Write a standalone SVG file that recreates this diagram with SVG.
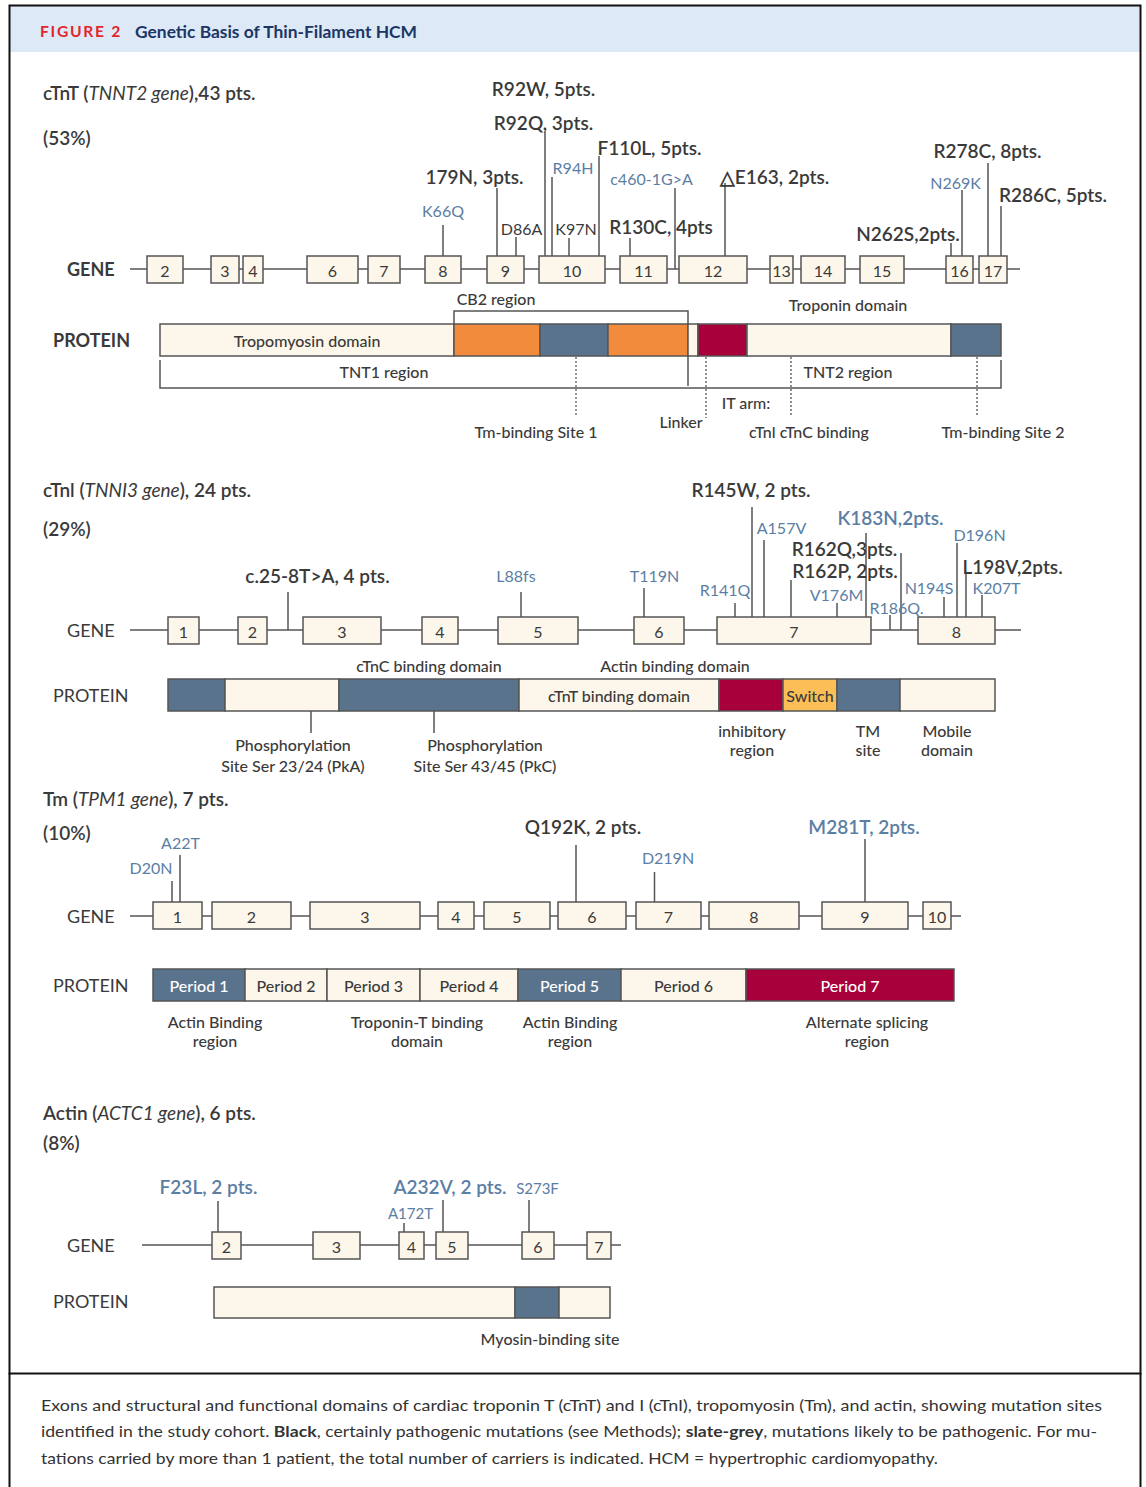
<svg xmlns="http://www.w3.org/2000/svg" width="1146" height="1487" viewBox="0 0 1146 1487">
<style>
text{font-family:Lato,"Noto Sans",sans-serif;fill:#3a3a3a;dominant-baseline:central}
.m{text-anchor:middle}
.big{font-size:19px;font-weight:600}
.sm{font-size:16px}
.xs{font-size:15px}
.bl{fill:#5b7ea4}
.ttl{font-size:19px;font-weight:600}
.lab{font-size:18px}
.lab1{font-size:18px;font-weight:700}
.dom{font-size:16px;font-weight:500}
.wt{fill:#ffffff}
.box{fill:#fdf6ea;stroke:#555;stroke-width:1.5}
.ln{stroke:#555;stroke-width:1.5;fill:none}
.dot{stroke:#555;stroke-width:1.3;stroke-dasharray:2 2;fill:none}
.cream{fill:#fdf6ea;stroke:#555;stroke-width:1.5}
.slate{fill:#5a738d;stroke:#555;stroke-width:1.5}
.org{fill:#f28b3c;stroke:#555;stroke-width:1.5}
.red{fill:#a8003a;stroke:#555;stroke-width:1.5}
.yel{fill:#fcbf57;stroke:#555;stroke-width:1.5}
.cap{font-size:16px;fill:#333}
</style>
<rect x="0" y="0" width="1146" height="1487" fill="#ffffff"/>
<g id="frame">
<rect x="10" y="6" width="1130" height="46" fill="#dde9f6"/>
<rect x="9.5" y="5.5" width="1131" height="1368" fill="none" stroke="#111" stroke-width="2"/>
<line x1="9.5" y1="1373" x2="9.5" y2="1487" stroke="#111" stroke-width="2"/>
<line x1="1140.5" y1="1373" x2="1140.5" y2="1487" stroke="#111" stroke-width="2"/>
<text x="40" y="31" textLength="82" lengthAdjust="spacingAndGlyphs" style="font-size:15px;font-weight:700;fill:#e2262b;letter-spacing:1.6px">FIGURE 2</text>
<text x="135" y="31" textLength="282" lengthAdjust="spacingAndGlyphs" style="font-size:17px;font-weight:700;fill:#1b3665">Genetic Basis of Thin-Filament HCM</text>
</g>

<!-- ========== cTnT ========== -->
<g id="ctnt-title">
<text x="43" y="92" class="ttl">cTnT (<tspan font-style="italic" font-weight="400">TNNT2 gene</tspan>),43 pts.</text>
<text x="43" y="137" class="ttl">(53%)</text>
<text x="67" y="269" class="lab1">GENE</text>
<text x="53" y="340" class="lab1">PROTEIN</text>
</g>
<g id="ctnt-connectors">
<line class="ln" x1="130" y1="269" x2="1020" y2="269"/>
<line class="ln" x1="443" y1="225" x2="443" y2="256"/>
<line class="ln" x1="497" y1="188" x2="497" y2="256"/>
<line class="ln" x1="516" y1="237" x2="516" y2="256"/>
<line class="ln" x1="545" y1="132" x2="545" y2="256"/>
<line class="ln" x1="552" y1="177" x2="552" y2="256"/>
<line class="ln" x1="569" y1="238" x2="569" y2="256"/>
<line class="ln" x1="599" y1="156" x2="599" y2="256"/>
<line class="ln" x1="675" y1="188" x2="675" y2="269"/>
<line class="ln" x1="630" y1="238" x2="630" y2="256"/>
<line class="ln" x1="725" y1="183" x2="725" y2="256"/>
<line class="ln" x1="951" y1="243" x2="951" y2="256"/>
<line class="ln" x1="962" y1="190" x2="962" y2="256"/>
<line class="ln" x1="988" y1="163" x2="988" y2="256"/>
<line class="ln" x1="1001" y1="206" x2="1001" y2="256"/>
<path class="ln" d="M454,324 V311 H688 V386"/>
<path class="ln" d="M160,360 V388 H1001 V360"/>
<line class="dot" x1="576" y1="357" x2="576" y2="417"/>
<line class="dot" x1="706" y1="357" x2="706" y2="418"/>
<line class="dot" x1="791" y1="357" x2="791" y2="417"/>
<line class="dot" x1="977" y1="357" x2="977" y2="416"/>
</g>
<g id="ctnt-exons">
<g id="tnnt2-e2"><rect class="box" x="147" y="256" width="36" height="27"/><text class="m sm" x="165" y="270">2</text></g>
<g id="tnnt2-e3"><rect class="box" x="211" y="256" width="28" height="27"/><text class="m sm" x="225" y="270">3</text></g>
<g id="tnnt2-e4"><rect class="box" x="243" y="256" width="20" height="27"/><text class="m sm" x="253" y="270">4</text></g>
<g id="tnnt2-e6"><rect class="box" x="307" y="256" width="51" height="27"/><text class="m sm" x="332.5" y="270">6</text></g>
<g id="tnnt2-e7"><rect class="box" x="368" y="256" width="32" height="27"/><text class="m sm" x="384" y="270">7</text></g>
<g id="tnnt2-e8"><rect class="box" x="425" y="256" width="36" height="27"/><text class="m sm" x="443" y="270">8</text></g>
<g id="tnnt2-e9"><rect class="box" x="487" y="256" width="37" height="27"/><text class="m sm" x="505.5" y="270">9</text></g>
<g id="tnnt2-e10"><rect class="box" x="539" y="256" width="66" height="27"/><text class="m sm" x="572" y="270">10</text></g>
<g id="tnnt2-e11"><rect class="box" x="620" y="256" width="47" height="27"/><text class="m sm" x="643.5" y="270">11</text></g>
<g id="tnnt2-e12"><rect class="box" x="679" y="256" width="68" height="27"/><text class="m sm" x="713" y="270">12</text></g>
<g id="tnnt2-e13"><rect class="box" x="770" y="256" width="23" height="27"/><text class="m sm" x="781.5" y="270">13</text></g>
<g id="tnnt2-e14"><rect class="box" x="801" y="256" width="44" height="27"/><text class="m sm" x="823" y="270">14</text></g>
<g id="tnnt2-e15"><rect class="box" x="860" y="256" width="44" height="27"/><text class="m sm" x="882" y="270">15</text></g>
<g id="tnnt2-e16"><rect class="box" x="946" y="256" width="27" height="27"/><text class="m sm" x="959.5" y="270">16</text></g>
<g id="tnnt2-e17"><rect class="box" x="979" y="256" width="28" height="27"/><text class="m sm" x="993" y="270">17</text></g>
</g>
<g id="ctnt-mutations">
<text class="m sm bl" x="443" y="210">K66Q</text>
<text class="m big" x="474.5" y="176">179N, 3pts.</text>
<text class="m sm" x="521.5" y="228">D86A</text>
<text class="m big" x="543.5" y="88">R92W, 5pts.</text>
<text class="m big" x="543.5" y="122">R92Q, 3pts.</text>
<text class="m sm bl" x="573" y="167">R94H</text>
<text class="m sm" x="576" y="228">K97N</text>
<text class="m big" x="649.5" y="147">F110L, 5pts.</text>
<text class="m sm bl" x="651.5" y="178">c460-1G&gt;A</text>
<text class="m big" x="661" y="226">R130C, 4pts</text>
<text class="m big" x="774.5" y="176">△E163, 2pts.</text>
<text class="m big" x="908" y="233">N262S,2pts.</text>
<text class="m sm bl" x="955.5" y="182">N269K</text>
<text class="m big" x="987.5" y="150">R278C, 8pts.</text>
<text class="m big" x="1053" y="194">R286C, 5pts.</text>
</g>
<g id="ctnt-protein">
<rect class="cream" x="160" y="324" width="294" height="32"/>
<rect class="org" x="454" y="324" width="86" height="32"/>
<rect class="slate" x="540" y="324" width="68" height="32"/>
<rect class="org" x="608" y="324" width="80" height="32"/>
<rect class="cream" x="688" y="324" width="10" height="32"/>
<rect class="red" x="698" y="324" width="49" height="32"/>
<rect class="cream" x="747" y="324" width="204" height="32"/>
<rect class="slate" x="951" y="324" width="50" height="32"/>
<text class="m dom" x="307" y="340">Tropomyosin domain</text>
<text class="m dom" x="496" y="298">CB2 region</text>
<text class="m dom" x="848" y="304">Troponin domain</text>
<text class="m dom" x="384" y="371">TNT1 region</text>
<text class="m dom" x="848" y="371">TNT2 region</text>
<text class="m dom" x="536" y="431">Tm-binding Site 1</text>
<text class="m dom" x="681" y="421">Linker</text>
<text class="m dom" x="746" y="402">IT arm:</text>
<text class="m dom" x="809" y="431">cTnl cTnC binding</text>
<text class="m dom" x="1003" y="431">Tm-binding Site 2</text>
</g>

<!-- ========== cTnI ========== -->
<g id="ctni-title">
<text x="43" y="489" class="ttl">cTnl (<tspan font-style="italic" font-weight="400">TNNI3 gene</tspan>), 24 pts.</text>
<text x="43" y="528" class="ttl">(29%)</text>
<text x="67" y="630" class="lab">GENE</text>
<text x="53" y="695" class="lab">PROTEIN</text>
</g>
<g id="ctni-connectors">
<line class="ln" x1="130" y1="630" x2="1021" y2="630"/>
<line class="ln" x1="288" y1="592" x2="288" y2="630"/>
<line class="ln" x1="521" y1="592" x2="521" y2="617"/>
<line class="ln" x1="644" y1="588" x2="644" y2="617"/>
<line class="ln" x1="735" y1="603" x2="735" y2="617"/>
<line class="ln" x1="752" y1="507" x2="752" y2="617"/>
<line class="ln" x1="764" y1="540" x2="764" y2="617"/>
<line class="ln" x1="866" y1="533" x2="866" y2="617"/>
<line class="ln" x1="901" y1="553" x2="901" y2="630"/>
<line class="ln" x1="791" y1="580" x2="791" y2="617"/>
<line class="ln" x1="837" y1="603" x2="837" y2="617"/>
<line class="ln" x1="890" y1="615" x2="890" y2="630"/>
<line class="ln" x1="944" y1="597" x2="944" y2="617"/>
<line class="ln" x1="957" y1="543" x2="957" y2="617"/>
<line class="ln" x1="966" y1="574" x2="966" y2="617"/>
<line class="ln" x1="982" y1="595" x2="982" y2="617"/>
<line class="ln" x1="311" y1="711" x2="311" y2="733"/>
<line class="ln" x1="434" y1="711" x2="434" y2="733"/>
</g>
<g id="ctni-exons">
<g id="tnni3-e1"><rect class="box" x="168" y="617" width="31" height="27"/><text class="m sm" x="183.5" y="631">1</text></g>
<g id="tnni3-e2"><rect class="box" x="238" y="617" width="29" height="27"/><text class="m sm" x="252.5" y="631">2</text></g>
<g id="tnni3-e3"><rect class="box" x="303" y="617" width="78" height="27"/><text class="m sm" x="342" y="631">3</text></g>
<g id="tnni3-e4"><rect class="box" x="422" y="617" width="36" height="27"/><text class="m sm" x="440" y="631">4</text></g>
<g id="tnni3-e5"><rect class="box" x="498" y="617" width="80" height="27"/><text class="m sm" x="538" y="631">5</text></g>
<g id="tnni3-e6"><rect class="box" x="634" y="617" width="50" height="27"/><text class="m sm" x="659" y="631">6</text></g>
<g id="tnni3-e7"><rect class="box" x="717" y="617" width="154" height="27"/><text class="m sm" x="794" y="631">7</text></g>
<g id="tnni3-e8"><rect class="box" x="918" y="617" width="77" height="27"/><text class="m sm" x="956.5" y="631">8</text></g>
</g>
<g id="ctni-mutations">
<text class="m big" x="317.5" y="575">c.25-8T&gt;A, 4 pts.</text>
<text class="m sm bl" x="516" y="575">L88fs</text>
<text class="m sm bl" x="654.5" y="575">T119N</text>
<text class="m sm bl" x="725" y="589">R141Q</text>
<text class="m big" x="751" y="489">R145W, 2 pts.</text>
<text class="m sm bl" x="781.5" y="527">A157V</text>
<text class="m big bl" x="890.5" y="517">K183N,2pts.</text>
<text class="m big" x="844.5" y="548">R162Q,3pts.</text>
<text class="m big" x="845" y="570">R162P, 2pts.</text>
<text class="m sm bl" x="836.5" y="594">V176M</text>
<text class="m sm bl" x="896.5" y="607">R186Q.</text>
<text class="m sm bl" x="929" y="587">N194S</text>
<text class="m sm bl" x="979.5" y="534">D196N</text>
<text class="m big" x="1012.5" y="566">L198V,2pts.</text>
<text class="m sm bl" x="996.5" y="587">K207T</text>
</g>
<g id="ctni-protein">
<rect class="slate" x="168" y="679" width="57" height="32"/>
<rect class="cream" x="225" y="679" width="114" height="32"/>
<rect class="slate" x="339" y="679" width="180" height="32"/>
<rect class="cream" x="519" y="679" width="200" height="32"/>
<rect class="red" x="719" y="679" width="64" height="32"/>
<rect class="yel" x="783" y="679" width="54" height="32"/>
<rect class="slate" x="837" y="679" width="63" height="32"/>
<rect class="cream" x="900" y="679" width="95" height="32"/>
<text class="m dom" x="429" y="665">cTnC binding domain</text>
<text class="m dom" x="675" y="665">Actin binding domain</text>
<text class="m dom" x="619" y="695">cTnT binding domain</text>
<text class="m dom" x="810" y="695">Switch</text>
<text class="m dom" x="293" y="744">Phosphorylation</text>
<text class="m dom" x="293" y="765">Site Ser 23/24 (PkA)</text>
<text class="m dom" x="485" y="744">Phosphorylation</text>
<text class="m dom" x="485" y="765">Site Ser 43/45 (PkC)</text>
<text class="m dom" x="752" y="730">inhibitory</text>
<text class="m dom" x="752" y="749">region</text>
<text class="m dom" x="868" y="730">TM</text>
<text class="m dom" x="868" y="749">site</text>
<text class="m dom" x="947" y="730">Mobile</text>
<text class="m dom" x="947" y="749">domain</text>
</g>

<!-- ========== Tm ========== -->
<g id="tm-title">
<text x="43" y="798" class="ttl">Tm (<tspan font-style="italic" font-weight="400">TPM1 gene</tspan>), 7 pts.</text>
<text x="43" y="832" class="ttl">(10%)</text>
<text x="67" y="916" class="lab">GENE</text>
<text x="53" y="985" class="lab">PROTEIN</text>
</g>
<g id="tm-connectors">
<line class="ln" x1="130" y1="916" x2="961" y2="916"/>
<line class="ln" x1="172" y1="881" x2="172" y2="902"/>
<line class="ln" x1="180" y1="855" x2="180" y2="902"/>
<line class="ln" x1="576" y1="845" x2="576" y2="902"/>
<line class="ln" x1="654.5" y1="872" x2="654.5" y2="902"/>
<line class="ln" x1="865" y1="839" x2="865" y2="902"/>
</g>
<g id="tm-exons">
<g id="tpm1-e1"><rect class="box" x="153" y="902" width="49" height="27"/><text class="m sm" x="177.5" y="916">1</text></g>
<g id="tpm1-e2"><rect class="box" x="212" y="902" width="79" height="27"/><text class="m sm" x="251.5" y="916">2</text></g>
<g id="tpm1-e3"><rect class="box" x="310" y="902" width="110" height="27"/><text class="m sm" x="365" y="916">3</text></g>
<g id="tpm1-e4"><rect class="box" x="438" y="902" width="36" height="27"/><text class="m sm" x="456" y="916">4</text></g>
<g id="tpm1-e5"><rect class="box" x="484" y="902" width="66" height="27"/><text class="m sm" x="517" y="916">5</text></g>
<g id="tpm1-e6"><rect class="box" x="558" y="902" width="68" height="27"/><text class="m sm" x="592" y="916">6</text></g>
<g id="tpm1-e7"><rect class="box" x="636" y="902" width="65" height="27"/><text class="m sm" x="668.5" y="916">7</text></g>
<g id="tpm1-e8"><rect class="box" x="709" y="902" width="90" height="27"/><text class="m sm" x="754" y="916">8</text></g>
<g id="tpm1-e9"><rect class="box" x="822" y="902" width="86" height="27"/><text class="m sm" x="865" y="916">9</text></g>
<g id="tpm1-e10"><rect class="box" x="923" y="902" width="28" height="27"/><text class="m sm" x="937" y="916">10</text></g>
</g>
<g id="tm-mutations">
<text class="m sm bl" x="151" y="867">D20N</text>
<text class="m sm bl" x="180.5" y="842">A22T</text>
<text class="m big" x="583" y="826">Q192K, 2 pts.</text>
<text class="m sm bl" x="668" y="857">D219N</text>
<text class="m big bl" x="864" y="826">M281T, 2pts.</text>
</g>
<g id="tm-protein">
<rect class="slate" x="153" y="969" width="92" height="32"/>
<rect class="cream" x="245" y="969" width="82" height="32"/>
<rect class="cream" x="327" y="969" width="93" height="32"/>
<rect class="cream" x="420" y="969" width="98" height="32"/>
<rect class="slate" x="518" y="969" width="103" height="32"/>
<rect class="cream" x="621" y="969" width="125" height="32"/>
<rect class="red" x="746" y="969" width="208" height="32"/>
<text class="m dom wt" x="199" y="985">Period 1</text>
<text class="m dom" x="286" y="985">Period 2</text>
<text class="m dom" x="373.5" y="985">Period 3</text>
<text class="m dom" x="469" y="985">Period 4</text>
<text class="m dom wt" x="569.5" y="985">Period 5</text>
<text class="m dom" x="683.5" y="985">Period 6</text>
<text class="m dom wt" x="850" y="985">Period 7</text>
<text class="m dom" x="215" y="1021">Actin Binding</text>
<text class="m dom" x="215" y="1040">region</text>
<text class="m dom" x="417" y="1021">Troponin-T binding</text>
<text class="m dom" x="417" y="1040">domain</text>
<text class="m dom" x="570" y="1021">Actin Binding</text>
<text class="m dom" x="570" y="1040">region</text>
<text class="m dom" x="867" y="1021">Alternate splicing</text>
<text class="m dom" x="867" y="1040">region</text>
</g>

<!-- ========== Actin ========== -->
<g id="actin-title">
<text x="43" y="1112" class="ttl">Actin (<tspan font-style="italic" font-weight="400">ACTC1 gene</tspan>), 6 pts.</text>
<text x="43" y="1142" class="ttl">(8%)</text>
<text x="67" y="1245" class="lab">GENE</text>
<text x="53" y="1301" class="lab">PROTEIN</text>
</g>
<g id="actin-connectors">
<line class="ln" x1="142" y1="1245" x2="621" y2="1245"/>
<line class="ln" x1="218" y1="1201" x2="218" y2="1232"/>
<line class="ln" x1="404" y1="1223" x2="404" y2="1232"/>
<line class="ln" x1="443" y1="1200" x2="443" y2="1232"/>
<line class="ln" x1="529" y1="1200" x2="529" y2="1232"/>
</g>
<g id="actin-exons">
<g id="actc1-e2"><rect class="box" x="212" y="1232" width="29" height="27"/><text class="m sm" x="226.5" y="1246">2</text></g>
<g id="actc1-e3"><rect class="box" x="313" y="1232" width="47" height="27"/><text class="m sm" x="336.5" y="1246">3</text></g>
<g id="actc1-e4"><rect class="box" x="399" y="1232" width="25" height="27"/><text class="m sm" x="411.5" y="1246">4</text></g>
<g id="actc1-e5"><rect class="box" x="436" y="1232" width="32" height="27"/><text class="m sm" x="452" y="1246">5</text></g>
<g id="actc1-e6"><rect class="box" x="522" y="1232" width="32" height="27"/><text class="m sm" x="538" y="1246">6</text></g>
<g id="actc1-e7"><rect class="box" x="587" y="1232" width="24" height="27"/><text class="m sm" x="599" y="1246">7</text></g>
</g>
<g id="actin-mutations">
<text class="m big bl" x="208.5" y="1186">F23L, 2 pts.</text>
<text class="m xs bl" x="410.5" y="1213">A172T</text>
<text class="m big bl" x="450" y="1186">A232V, 2 pts.</text>
<text class="m xs bl" x="537.5" y="1188">S273F</text>
</g>
<g id="actin-protein">
<rect class="cream" x="214" y="1287" width="301" height="31"/>
<rect class="slate" x="515" y="1287" width="44" height="31"/>
<rect class="cream" x="559" y="1287" width="51" height="31"/>
<text class="m dom" x="550" y="1338">Myosin-binding site</text>
</g>

<g id="caption">
<text class="cap" x="41" y="1404" textLength="1061" lengthAdjust="spacingAndGlyphs">Exons and structural and functional domains of cardiac troponin T (cTnT) and I (cTnI), tropomyosin (Tm), and actin, showing mutation sites</text>
<text class="cap" x="41" y="1430" textLength="1056" lengthAdjust="spacingAndGlyphs">identified in the study cohort. <tspan font-weight="700">Black</tspan>, certainly pathogenic mutations (see Methods); <tspan font-weight="700">slate-grey</tspan>, mutations likely to be pathogenic. For mu-</text>
<text class="cap" x="41" y="1457" textLength="897" lengthAdjust="spacingAndGlyphs">tations carried by more than 1 patient, the total number of carriers is indicated. HCM = hypertrophic cardiomyopathy.</text>
</g>
</svg>
